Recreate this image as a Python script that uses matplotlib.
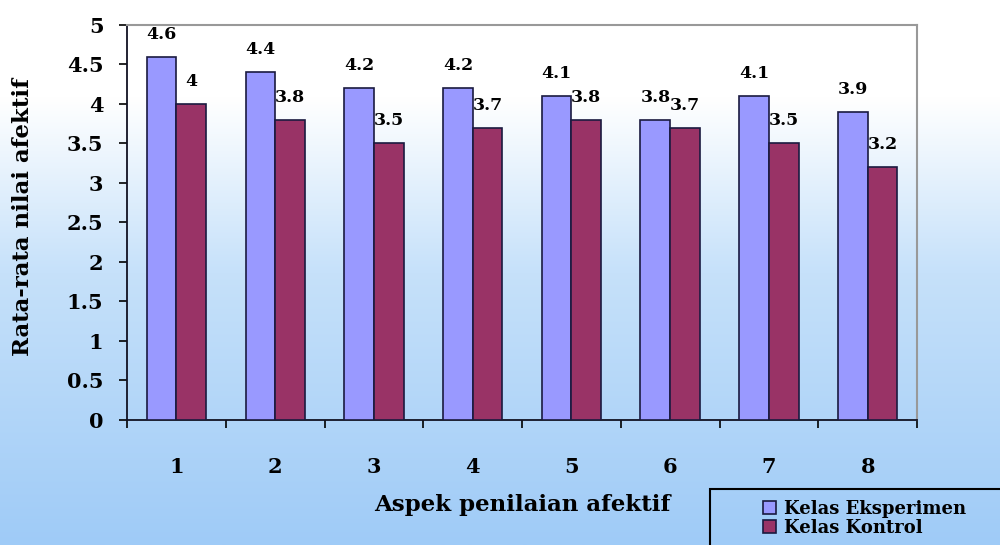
import numpy as np
import matplotlib
matplotlib.use("Agg")
import matplotlib.pyplot as plt
from matplotlib.colors import LinearSegmentedColormap
from matplotlib.patches import Rectangle

# data
aspek = [1, 2, 3, 4, 5, 6, 7, 8]
eksperimen = [4.6, 4.4, 4.2, 4.2, 4.1, 3.8, 4.1, 3.9]
kontrol = [4.0, 3.8, 3.5, 3.7, 3.8, 3.7, 3.5, 3.2]
yticks = [0, 0.5, 1, 1.5, 2, 2.5, 3, 3.5, 4, 4.5, 5]
series_names = ["Kelas Eksperimen", "Kelas Kontrol"]

LAV = "#9999FF"
MAROON = "#993366"
FONT = "DejaVu Serif"

fig = plt.figure(figsize=(10, 5.45), dpi=100)

# gradient background, white at the top to light blue at the bottom
bg = fig.add_axes([0, 0, 1, 1], zorder=-10)
cmap = LinearSegmentedColormap.from_list(
    "bgcm", [(0.0, "#9FCBF7"), (0.5, "#C6E1FA"), (0.82, "#FFFFFF"), (1.0, "#FFFFFF")])
grad = np.linspace(0, 1, 256).reshape(-1, 1)
bg.imshow(grad, aspect="auto", cmap=cmap, origin="lower", extent=[0, 1, 0, 1])
bg.set_axis_off()

ax = fig.add_axes([0.127, 0.2294, 0.79, 0.7248])
ax.set_facecolor("none")

x = np.array(aspek, dtype=float)
w = 0.3
b1 = ax.bar(x - w / 2, eksperimen, w, color=LAV, edgecolor="#1a1a40", linewidth=1.2,
            label=series_names[0], zorder=3)
b2 = ax.bar(x + w / 2, kontrol, w, color=MAROON, edgecolor="#1a1a40", linewidth=1.2,
            label=series_names[1], zorder=3)

for bars, vals in ((b1, eksperimen), (b2, kontrol)):
    for r, v in zip(bars, vals):
        txt = f"{v:g}"
        ax.annotate(txt, (r.get_x() + r.get_width() / 2, v), xytext=(0, 13),
                    textcoords="offset points", ha="center", va="baseline",
                    fontsize=12.5, family=FONT, fontweight="semibold", zorder=5)

ax.set_xlim(0.5, 8.5)
ax.set_ylim(0, 5)
ax.set_yticks(yticks)
ax.set_yticklabels([f"{t:g}" for t in yticks])
ax.set_xticks(aspek)
ax.set_xticklabels([str(a) for a in aspek])
ax.set_xticks(np.arange(0.5, 9, 1), minor=True)

ax.tick_params(axis="y", direction="out", length=6, width=1.2, pad=11,
               labelsize=15, colors="black")
ax.tick_params(axis="x", which="major", length=0, pad=27, labelsize=15)
ax.tick_params(axis="x", which="minor", direction="out", length=6, width=1.2)
for lab in ax.get_xticklabels() + ax.get_yticklabels():
    lab.set_family(FONT)
    lab.set_fontweight("bold")

for s in ("left", "bottom"):
    ax.spines[s].set_color("#111122")
    ax.spines[s].set_linewidth(1.3)
for s in ("top", "right"):
    ax.spines[s].set_color("#999999")
    ax.spines[s].set_linewidth(1.5)

ax.set_ylabel("Rata-rata nilai afektif", family=FONT, fontweight="bold", fontsize=16.5)
ax.yaxis.set_label_coords(-0.118, 0.515)
ax.set_xlabel("Aspek penilaian afektif", family=FONT, fontweight="bold", fontsize=16.5)
ax.xaxis.set_label_coords(0.5, -0.188)

# legend box runs off the right and bottom edge like in the source
fig.patches.append(Rectangle((0.71, -0.05), 0.4, 0.153, transform=fig.transFigure,
                             facecolor="none", edgecolor="black", linewidth=1.5))
leg = fig.legend(handles=[b1, b2], labels=series_names, loc="upper left",
                 bbox_to_anchor=(0.752, 0.103), frameon=False,
                 prop={"family": FONT, "weight": "bold", "size": 13},
                 handlelength=0.75, handleheight=0.75, handletextpad=0.4,
                 labelspacing=0.05, borderpad=0.1)

fig.savefig("out.png", dpi=100)
